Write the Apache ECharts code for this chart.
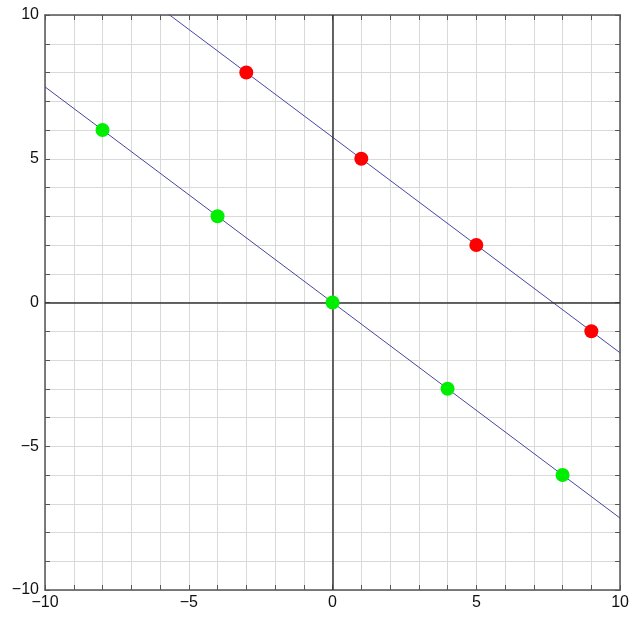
<!DOCTYPE html>
<html>
<head>
<meta charset="utf-8">
<script src="https://cdn.jsdelivr.net/npm/echarts@6/dist/echarts.min.js"></script>
<style>
  html, body { margin: 0; padding: 0; background: #fff; }
  #chart { width: 632px; height: 619px; }
</style>
</head>
<body>
<div id="chart"></div>
<script>
// points
var redPoints = [[-3, 8], [1, 5], [5, 2], [9, -1]];
var greenPoints = [[-8, 6], [-4, 3], [0, 0], [4, -3], [8, -6]];
// the two straight lines, end points at the left and right frame
var redLine = [[-10, 13.25], [10, -1.75]];
var greenLine = [[-10, 7.5], [10, -7.5]];
var tickLabels = [-10, -5, 0, 5, 10];

function fmt(v) {
  if (tickLabels.indexOf(v) < 0) return "";
  return v < 0 ? "\u2212" + Math.abs(v) : String(v);
}

var frameColor = "#555";
var gridColor = "#d9d9d9";
var lineColor = "#4646a0";

function makeAxis(pos, isX, showLabel) {
  return {
    type: "value",
    position: pos,
    min: -10,
    max: 10,
    interval: 1,
    axisLine: { show: true, onZero: false, lineStyle: { color: frameColor, width: 1.5 } },
    axisTick: { show: true, inside: true, length: 5, lineStyle: { color: frameColor, width: 1 } },
    axisLabel: {
      show: showLabel,
      formatter: fmt,
      color: "#111",
      fontFamily: "Liberation Sans, Arial",
      fontSize: 16,
      margin: isX ? 5 : 6,
      showMinLabel: true,
      showMaxLabel: true
    },
    splitLine: { show: showLabel, lineStyle: { color: gridColor, width: 1 } }
  };
}

var myChart = echarts.init(document.getElementById("chart"));
var option = {
  animation: false,
  grid: { left: 45, right: 11, top: 15, bottom: 29, containLabel: false },
  xAxis: [makeAxis("bottom", true, true), makeAxis("top", true, false)],
  yAxis: [makeAxis("left", false, true), makeAxis("right", false, false)],
  series: [
    {
      type: "line",
      data: [],
      silent: true,
      markLine: {
        silent: true,
        symbol: "none",
        label: { show: false },
        lineStyle: { color: "#333", width: 1.5, type: "solid" },
        data: [{ xAxis: 0 }, { yAxis: 0 }]
      }
    },
    {
      name: "redLine",
      type: "line",
      data: redLine,
      symbol: "none",
      clip: true,
      lineStyle: { color: lineColor, width: 1 }
    },
    {
      name: "greenLine",
      type: "line",
      data: greenLine,
      symbol: "none",
      clip: true,
      lineStyle: { color: lineColor, width: 1 }
    },
    {
      name: "red",
      type: "scatter",
      data: redPoints,
      symbolSize: 14,
      itemStyle: { color: "#ff0000", opacity: 1 },
      z: 5
    },
    {
      name: "green",
      type: "scatter",
      data: greenPoints,
      symbolSize: 14,
      itemStyle: { color: "#00ee00", opacity: 1 },
      z: 5
    }
  ]
};
myChart.setOption(option);
</script>
</body>
</html>
